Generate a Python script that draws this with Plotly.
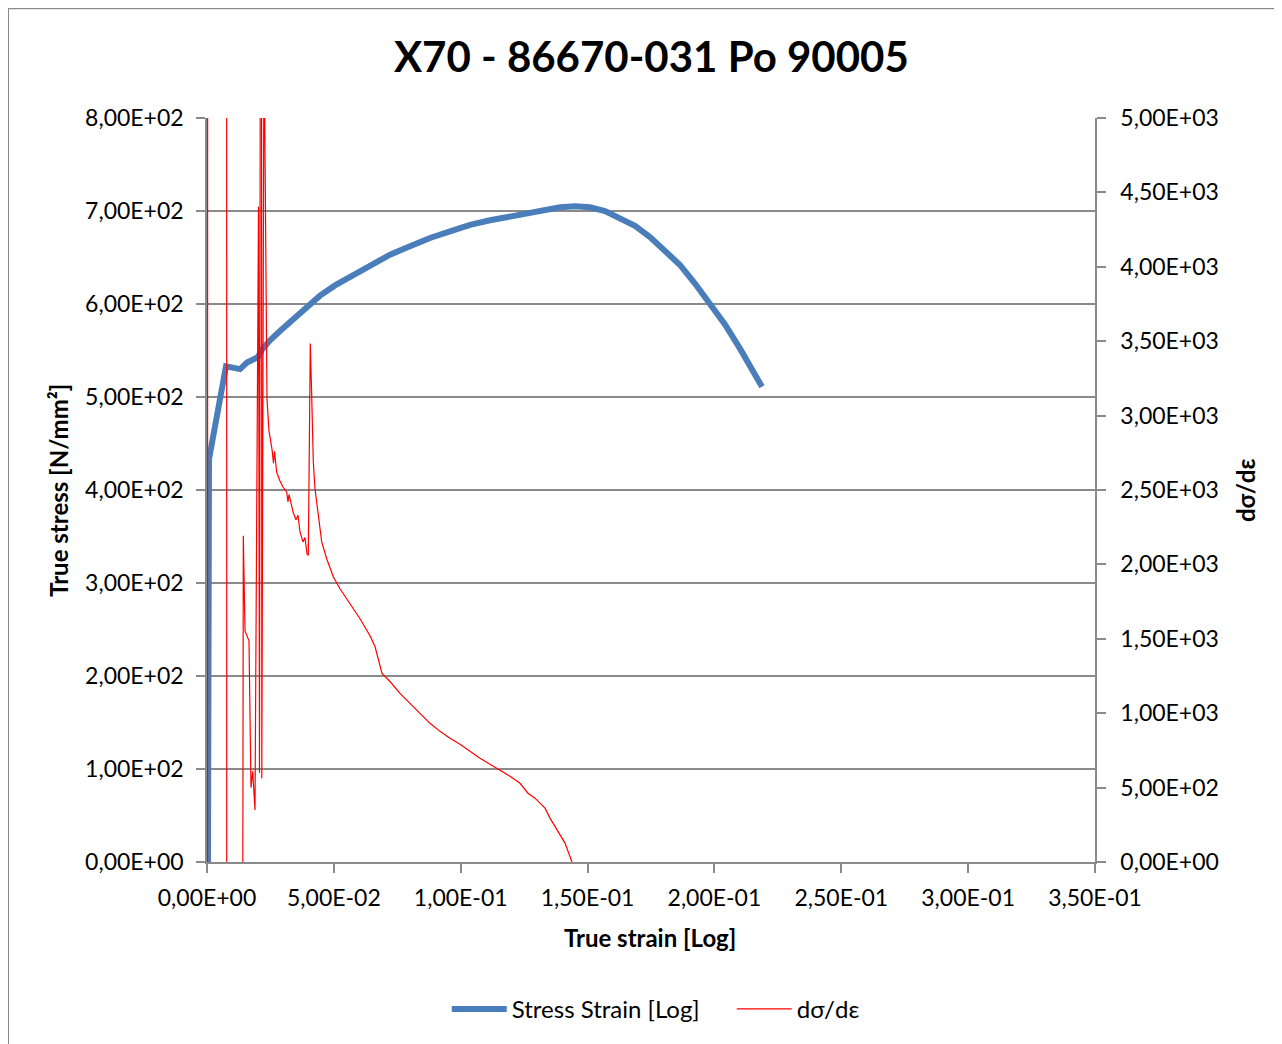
import plotly.graph_objects as go

# true stress-strain curve (left axis)
strain_ss = [0.00039, 0.00079, 0.00749, 0.01301, 0.01577, 0.02010, 0.02168, 0.02483,
             0.02877, 0.03271, 0.03665, 0.04060, 0.04454, 0.05045, 0.05636, 0.06424,
             0.07213, 0.08001, 0.08789, 0.09578, 0.10366, 0.11154, 0.11942, 0.12533,
             0.13125, 0.13913, 0.14504, 0.15096, 0.15687, 0.16278, 0.16869, 0.17460,
             0.18051, 0.18643, 0.19234, 0.19825, 0.20416, 0.21008, 0.21481, 0.21875]
stress_ss = [0, 433, 533, 530, 537, 543, 551, 561,
             571, 581, 589, 599, 609, 620, 629, 642,
             653, 662, 671, 678, 685, 690, 694, 698,
             701, 704, 705, 704, 700, 692, 684, 672,
             658, 642, 622, 601, 578, 552, 531, 511]

# hardening rate d(sigma)/d(eps) (right axis)
strain_rate = [0.00012, 0.00032, 0.00769, 0.00788, 0.01242, 0.01431, 0.01498, 0.01655,
               0.01734, 0.01801, 0.01892, 0.02030, 0.02069, 0.02140, 0.02160, 0.02247,
               0.02365, 0.02444, 0.02562, 0.02621, 0.02660, 0.02747, 0.02877, 0.02995,
               0.03141, 0.03192, 0.03232, 0.03390, 0.03508, 0.03587, 0.03665, 0.03784,
               0.03863, 0.03941, 0.03993, 0.04071, 0.04127, 0.04190, 0.04257, 0.04324,
               0.04426, 0.04521, 0.04718, 0.04978, 0.05242, 0.05636, 0.06030, 0.06424,
               0.06622, 0.06897, 0.07213, 0.07607, 0.08001, 0.08395, 0.08789, 0.09183,
               0.09578, 0.09972, 0.10366, 0.10760, 0.11154, 0.11548, 0.11942, 0.12337,
               0.12652, 0.12928, 0.13322, 0.13519, 0.13834, 0.14110, 0.14386]
dsde = [-20000, 20000, 20000, -20000, -20000, 2192, 1553, 1486,
        500, 610, 350, 4403, 600, 12000, 563, 5600,
        3110, 2896, 2775, 2680, 2760, 2619, 2560, 2520,
        2487, 2420, 2470, 2353, 2300, 2330, 2218, 2151,
        2180, 2071, 2060, 3485, 3132, 2688, 2507, 2420,
        2285, 2151, 2038, 1917, 1836, 1736, 1635, 1521,
        1448, 1267, 1213, 1133, 1066, 998, 932, 878,
        831, 791, 744, 697, 657, 617, 576, 529,
        462, 429, 362, 295, 208, 127, 0]

x_ticks = [0, 0.05, 0.10, 0.15, 0.20, 0.25, 0.30, 0.35]
x_labels = ["0,00E+00", "5,00E-02", "1,00E-01", "1,50E-01", "2,00E-01",
            "2,50E-01", "3,00E-01", "3,50E-01"]
y_ticks = [0, 100, 200, 300, 400, 500, 600, 700, 800]
y_labels = ["0,00E+00", "1,00E+02", "2,00E+02", "3,00E+02", "4,00E+02",
            "5,00E+02", "6,00E+02", "7,00E+02", "8,00E+02"]
y2_ticks = [0, 500, 1000, 1500, 2000, 2500, 3000, 3500, 4000, 4500, 5000]
y2_labels = ["0,00E+00", "5,00E+02", "1,00E+03", "1,50E+03", "2,00E+03", "2,50E+03",
             "3,00E+03", "3,50E+03", "4,00E+03", "4,50E+03", "5,00E+03"]

FONT = "Lato, 'Open Sans', sans-serif"
GREY = "#8a8a8a"

fig = go.Figure()
fig.add_trace(go.Scatter(x=strain_ss, y=stress_ss, mode="lines", name="Stress Strain [Log]",
                         line=dict(color="#4a7ebb", width=6)))
fig.add_trace(go.Scatter(x=strain_rate, y=dsde, mode="lines", name="dσ/dε", yaxis="y2",
                         line=dict(color="#ff0000", width=1.2)))

axis_common = dict(ticks="outside", ticklen=9, tickcolor=GREY, tickwidth=1.5,
                   showline=True, linecolor=GREY, linewidth=1.5, zeroline=False,
                   tickfont=dict(family=FONT, size=23, color="black"))

# the page adds an 8px body margin, so the figure is sized/margined to compensate
fig.update_layout(
    width=1274, height=1036,
    margin=dict(l=199, r=187, t=110, b=180),
    paper_bgcolor="white", plot_bgcolor="white",
    font=dict(family=FONT, color="black"),
    title=dict(text="<b>X70 - 86670-031 Po 90005</b>", x=0.505, xanchor="center",
               y=0.952, yanchor="middle", font=dict(family=FONT, size=42)),
    xaxis=dict(range=[0, 0.35], tickvals=x_ticks, ticktext=x_labels, showgrid=False,
               ticklabelstandoff=6, **axis_common),
    yaxis=dict(range=[0, 800], tickvals=y_ticks, ticktext=y_labels, showgrid=True,
               gridcolor=GREY, gridwidth=2, ticklabelstandoff=8, **axis_common),
    yaxis2=dict(range=[0, 5000], tickvals=y2_ticks, ticktext=y2_labels, overlaying="y",
                side="right", showgrid=False, ticklabelstandoff=10, **axis_common),
    legend=dict(orientation="h", x=0.27, xanchor="left", y=-0.198, yanchor="middle",
                font=dict(family=FONT, size=24), itemwidth=55,
                entrywidth=215, entrywidthmode="pixels"),
    showlegend=True,
)

fig.add_annotation(text="<b>True strain [Log]</b>", xref="paper", yref="paper",
                   x=0.499, y=-0.102, xanchor="center", yanchor="middle",
                   showarrow=False, font=dict(family=FONT, size=24))
fig.add_annotation(text="<b>True stress [N/mm²]</b>", xref="paper", yref="paper",
                   x=-0.168, y=0.5, xanchor="center", yanchor="middle", textangle=-90,
                   showarrow=False, font=dict(family=FONT, size=24))
fig.add_annotation(text="<b>dσ/dε</b>", xref="paper", yref="paper",
                   x=1.169, y=0.5, xanchor="center", yanchor="middle", textangle=-90,
                   showarrow=False, font=dict(family=FONT, size=24))

# chart frame
fig.add_shape(type="rect", xref="paper", yref="paper",
              x0=-0.2241, y0=-0.26, x1=1.23, y1=1.1475,
              line=dict(color="#8a8a8a", width=2), layer="below")

fig.write_html("out.html")
